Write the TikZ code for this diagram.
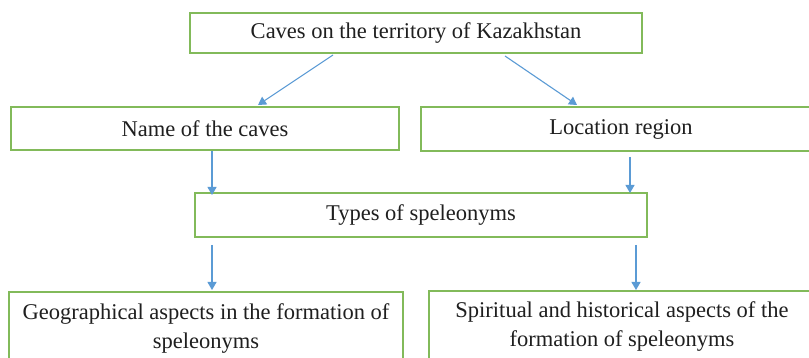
\documentclass[tikz,border=0pt]{standalone}
\usepackage{fontspec}
\setmainfont{Liberation Serif}
\usetikzlibrary{arrows.meta}
\definecolor{boxgreen}{RGB}{130,186,90}
\definecolor{arrblue}{RGB}{91,155,213}
\begin{document}
\begin{tikzpicture}[x=1pt,y=-1pt,
  box/.style={draw=boxgreen, line width=2pt, rectangle, inner sep=0pt, outer sep=0pt,
    align=center, font=\fontsize{22.5}{29}\selectfont, text=black!88},
  arr/.style={draw=arrblue, line width=1.1pt, -{Triangle[length=8pt,width=9pt]}}]
\useasboundingbox (0,0) rectangle (809,358);
\fill[white] (0,0) rectangle (809,358);
\clip (0,0) rectangle (809,358);
\node[box, minimum width=452pt, minimum height=40pt] (top) at (416,33) {Caves on the territory of Kazakhstan};
\node[box, minimum width=388pt, minimum height=43pt] (name) at (205,128.5) {Name of the caves};
\node[box, minimum width=400pt, minimum height=44pt] (loc) at (621,129) {Location region};
\node[box, minimum width=452pt, minimum height=44pt] (types) at (421,215) {Types of speleonyms};
\node[box, minimum width=394pt, minimum height=74pt] (geo) at (206,329) {Geographical aspects in the formation of\\speleonyms};
\node[box, minimum width=386pt, minimum height=72pt] (spir) at (622,327) {Spiritual and historical aspects of the\\formation of speleonyms};
\draw[arr] ([xshift=-83pt,yshift=-2pt]top.south) -- ([xshift=53pt,yshift=2pt]name.north);
\draw[arr] ([xshift=89pt,yshift=-3pt]top.south) -- ([xshift=-44pt,yshift=2pt]loc.north);
\draw[arr] ([xshift=7pt,yshift=-1pt]name.south) -- ([xshift=7pt,yshift=-2pt]name.south |- types.north);
\draw[arr] ([xshift=9pt,yshift=-6pt]loc.south) -- ([xshift=9pt]loc.south |- types.north);
\draw[arr] ([xshift=-209pt,yshift=-8pt]types.south) -- ([xshift=-209pt,yshift=2pt]types.south |- geo.north);
\draw[arr] ([xshift=215pt,yshift=-8pt]types.south) -- ([xshift=215pt,yshift=1pt]types.south |- spir.north);
\end{tikzpicture}
\end{document}
